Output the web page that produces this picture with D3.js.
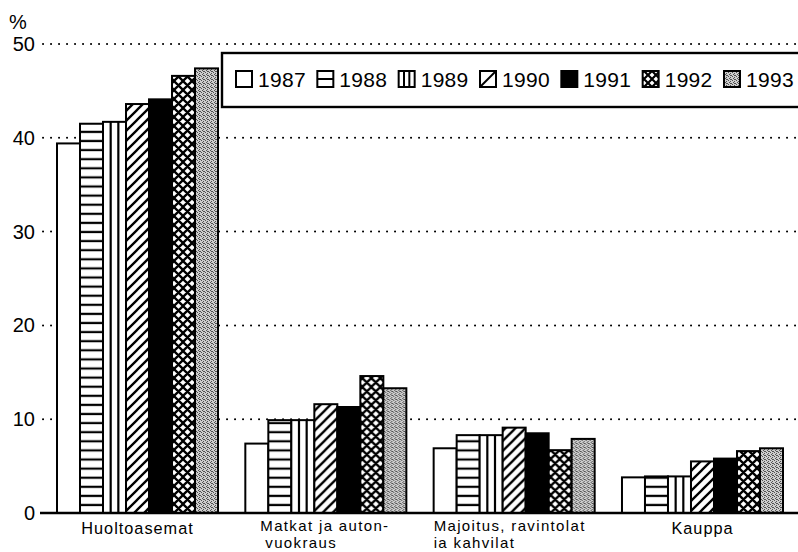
<!DOCTYPE html>
<html><head><meta charset="utf-8">
<script src="https://cdn.jsdelivr.net/npm/d3@7"></script>
<style>body{margin:0;background:#fff}svg{display:block}text{font-family:"Liberation Sans",Arial,Helvetica,sans-serif}</style>
</head><body>
<svg id="c" width="798" height="552"></svg>
<script>
const categories = ["Huoltoasemat", "Matkat ja auton-|vuokraus", "Majoitus, ravintolat|ia kahvilat", "Kauppa"];
const years = ["1987","1988","1989","1990","1991","1992","1993"];
const v1987 = [39.4, 7.4, 6.9, 3.8];
const v1988 = [41.5, 9.9, 8.3, 3.9];
const v1989 = [41.7, 9.9, 8.3, 3.9];
const v1990 = [43.6, 11.6, 9.1, 5.5];
const v1991 = [44.1, 11.3, 8.5, 5.8];
const v1992 = [46.6, 14.6, 6.7, 6.6];
const v1993 = [47.4, 13.3, 7.9, 6.9];
const series = [v1987, v1988, v1989, v1990, v1991, v1992, v1993];
const yTicks = [0, 10, 20, 30, 40, 50];

const svg = d3.select("#c");
const defs = svg.append("defs");
// patterns
let p = defs.append("pattern").attr("id","p1988").attr("patternUnits","userSpaceOnUse").attr("width",8).attr("height",9.1);
p.append("rect").attr("width",8).attr("height",9.1).attr("fill","#fff");
p.append("line").attr("x1",0).attr("x2",8).attr("y1",4.5).attr("y2",4.5).attr("stroke","#000").attr("stroke-width",2.2);
p = defs.append("pattern").attr("id","p1990").attr("patternUnits","userSpaceOnUse").attr("width",10).attr("height",10);
p.append("rect").attr("width",10).attr("height",10).attr("fill","#fff");
p.append("path").attr("d","M0,10L10,0M-2,2L2,-2M8,12L12,8").attr("stroke","#000").attr("stroke-width",2.3);
p = defs.append("pattern").attr("id","p1992").attr("patternUnits","userSpaceOnUse").attr("width",9).attr("height",9);
p.append("rect").attr("width",9).attr("height",9).attr("fill","#fff");
p.append("path").attr("d","M0,9L9,0M-2,2L2,-2M7,11L11,7M0,0L9,9M-2,7L2,11M7,-2L11,2").attr("stroke","#000").attr("stroke-width",2.3);
p = defs.append("pattern").attr("id","p1993").attr("patternUnits","userSpaceOnUse").attr("width",4).attr("height",4);
p.append("rect").attr("width",4).attr("height",4).attr("fill","#cdcdcd");
[[0,0],[2,1],[1,2],[3,3],[2,3]].forEach(([a,b])=>p.append("rect").attr("x",a).attr("y",b).attr("width",1).attr("height",1).attr("fill","#505050"));
p = defs.append("pattern").attr("id","l1992").attr("patternUnits","userSpaceOnUse").attr("width",8).attr("height",8).attr("x",0).attr("y",3);
p.append("rect").attr("width",8).attr("height",8).attr("fill","#fff");
p.append("path").attr("d","M0,8L8,0M0,0L8,8").attr("stroke","#000").attr("stroke-width",2.2);

const fills = ["#fff","url(#p1988)","#fff","url(#p1990)","#000","url(#p1992)","url(#p1993)"];

const y = d3.scaleLinear().domain([0,50]).range([513,44]);
const x0 = d3.scaleBand().domain(categories).range([57,783]).paddingInner(0.145).paddingOuter(0);
const x1 = d3.scaleBand().domain(years).range([0, x0.bandwidth()]);

// gridlines
svg.append("g").selectAll("line").data(yTicks.filter(d=>d>0)).join("line")
  .attr("x1",43).attr("x2",798).attr("y1",d=>y(d)).attr("y2",d=>y(d))
  .attr("stroke","#000").attr("stroke-width",2).attr("stroke-dasharray","0.1,7.9").attr("stroke-linecap","round");

// y axis labels
svg.append("g").selectAll("text").data(yTicks).join("text")
  .attr("x",35).attr("y",d=>y(d)+7).attr("text-anchor","end").attr("font-size",20).text(d=>d);
svg.append("text").attr("x",9).attr("y",29).attr("font-size",20).text("%");

// bars
const groups = svg.append("g").selectAll("g").data(categories).join("g")
  .attr("transform",d=>`translate(${x0(d)},0)`);
groups.each(function(cat, ci){
  const g = d3.select(this);
  years.forEach((yr, si)=>{
    const val = series[si][ci];
    const bx = x1(yr), bw = x1.bandwidth();
    g.append("rect").attr("x",bx).attr("y",y(val)).attr("width",bw).attr("height",y(0)-y(val))
      .attr("fill",fills[si]).attr("stroke","#000").attr("stroke-width",2);
    if (yr === "1989") {
      [1/3, 2/3].forEach(f=>g.append("line").attr("x1",bx+bw*f).attr("x2",bx+bw*f)
        .attr("y1",y(val)).attr("y2",y(0)).attr("stroke","#000").attr("stroke-width",2.2));
    }
  });
});

// baseline
svg.append("line").attr("x1",40).attr("x2",798).attr("y1",y(0)).attr("y2",y(0)).attr("stroke","#000").attr("stroke-width",2.4);

// category labels
categories.forEach((c, i)=>{
  const lines = c.split("|");
  const cx = x0(c) + x0.bandwidth()/2;
  if (lines.length === 1) {
    svg.append("text").attr("font-size",16.3).attr("letter-spacing",1)
      .attr("x",cx).attr("y",534).attr("text-anchor","middle").text(lines[0]);
  } else {
    const left = x0(c) + (i===1 ? 15 : 0);
    svg.append("text").attr("font-size",15).attr("letter-spacing",1.35)
      .attr("x",left).attr("y",531).text(lines[0]);
    svg.append("text").attr("font-size",15).attr("letter-spacing",1.35)
      .attr("x",left + (i===1 ? 5 : 0)).attr("y",548).text(lines[1]);
  }
});

// legend
const lg = svg.append("g");
lg.append("rect").attr("x",222).attr("y",53).attr("width",590).attr("height",54)
  .attr("fill","#fff").attr("stroke","#000").attr("stroke-width",2.4);
const legX = d3.scalePoint().domain(years).range([236, 724]);
years.forEach((yr, si)=>{
  const lx = legX(yr), ly = 71, sw = 16, sh = 16;
  const f = si===5 ? "url(#l1992)" : (si===1||si===3||si===2 ? "#fff" : fills[si]);
  lg.append("rect").attr("x",lx).attr("y",ly).attr("width",sw).attr("height",sh)
    .attr("fill",f).attr("stroke","#000").attr("stroke-width",2);
  if (si===1) lg.append("line").attr("x1",lx).attr("x2",lx+sw).attr("y1",ly+sh/2).attr("y2",ly+sh/2).attr("stroke","#000").attr("stroke-width",2);
  if (si===2) [1/3,2/3].forEach(fr=>lg.append("line").attr("x1",lx+sw*fr).attr("x2",lx+sw*fr).attr("y1",ly).attr("y2",ly+sh).attr("stroke","#000").attr("stroke-width",2));
  if (si===3) lg.append("line").attr("x1",lx).attr("x2",lx+sw).attr("y1",ly+sh).attr("y2",ly).attr("stroke","#000").attr("stroke-width",2);
  lg.append("text").attr("x",lx+22).attr("y",ly+16).attr("font-size",21).attr("letter-spacing",0.3).text(yr);
});
</script>
</body></html>
